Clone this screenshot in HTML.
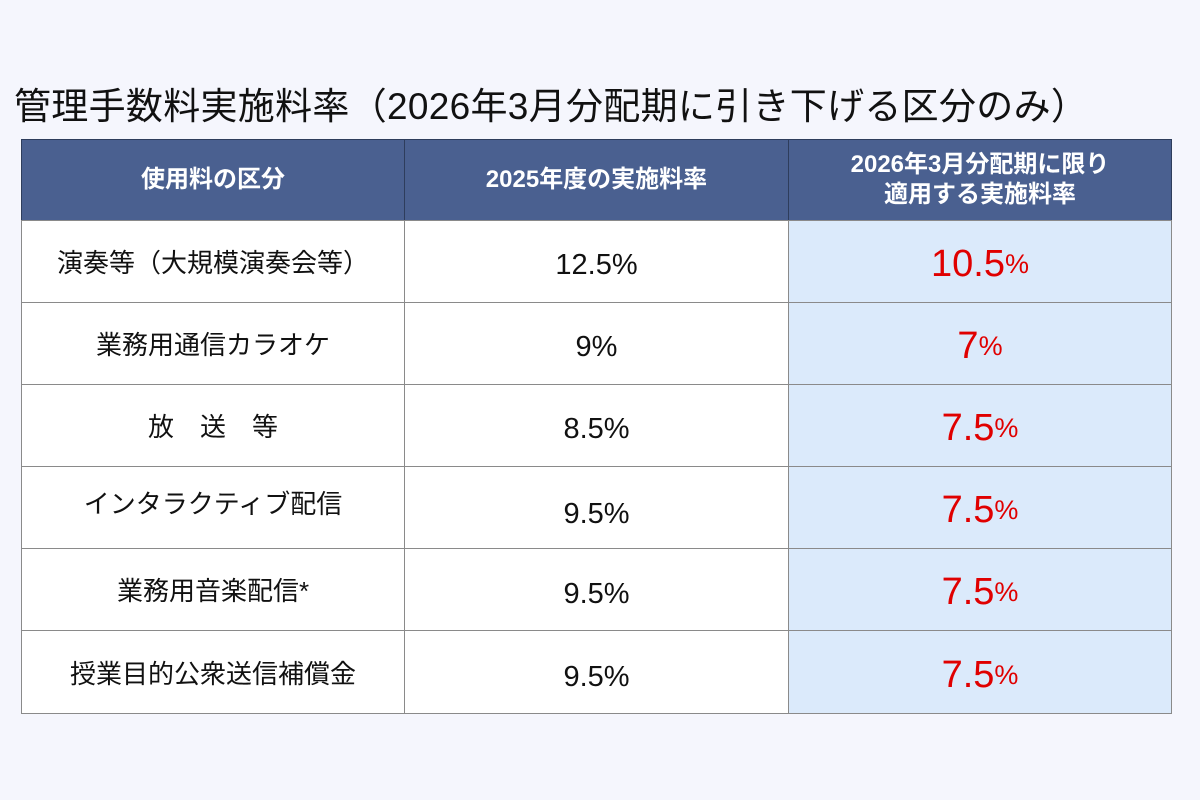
<!DOCTYPE html>
<html><head><meta charset="utf-8"><style>
body{margin:0;width:1200px;height:800px;background:#f5f6fd;font-family:"Liberation Sans","Noto Sans CJK JP",sans-serif;position:relative;overflow:hidden}
.t{position:absolute;left:14px;top:76px;font-size:37px;color:#111;white-space:nowrap;letter-spacing:0.3px}
.c{position:absolute;display:flex;align-items:center;justify-content:center;text-align:center;box-sizing:border-box;border:1px solid #8a8a8a;margin:-1px 0 0 -1px}
.h{background:#4a6090;color:#fff;font-size:24px;font-weight:bold;line-height:30px;border-color:#2e3d5c}
.w{background:#fff;color:#111;font-size:26px}
.n{font-size:29px;padding-top:8px}
.b{background:#dbeafb;color:#e00000;font-size:38px;padding-top:6px}
.b small{font-size:27px}
</style></head><body>
<div class="t">管理手数料実施料率（2026年3月分配期に引き下げる区分のみ）</div>
<div class="c h" style="left:22px;top:140px;width:384px;height:82px">使用料の区分</div>
<div class="c h" style="left:405px;top:140px;width:385px;height:82px">2025年度の実施料率</div>
<div class="c h" style="left:789px;top:140px;width:384px;height:82px">2026年3月分配期に限り<br>適用する実施料率</div>

<div class="c w" style="left:22px;top:221px;width:384px;height:83px">演奏等（大規模演奏会等）</div>
<div class="c w n" style="left:405px;top:221px;width:385px;height:83px">12.5%</div>
<div class="c b" style="left:789px;top:221px;width:384px;height:83px">10.5<small>%</small></div>

<div class="c w" style="left:22px;top:303px;width:384px;height:83px">業務用通信カラオケ</div>
<div class="c w n" style="left:405px;top:303px;width:385px;height:83px">9%</div>
<div class="c b" style="left:789px;top:303px;width:384px;height:83px">7<small>%</small></div>

<div class="c w" style="left:22px;top:385px;width:384px;height:83px">放　送　等</div>
<div class="c w n" style="left:405px;top:385px;width:385px;height:83px">8.5%</div>
<div class="c b" style="left:789px;top:385px;width:384px;height:83px">7.5<small>%</small></div>

<div class="c w" style="left:22px;top:467px;width:384px;height:83px;padding-bottom:10px">インタラクティブ配信</div>
<div class="c w n" style="left:405px;top:467px;width:385px;height:83px;padding-top:14px">9.5%</div>
<div class="c b" style="left:789px;top:467px;width:384px;height:83px">7.5<small>%</small></div>

<div class="c w" style="left:22px;top:549px;width:384px;height:83px">業務用音楽配信*</div>
<div class="c w n" style="left:405px;top:549px;width:385px;height:83px;padding-top:10px">9.5%</div>
<div class="c b" style="left:789px;top:549px;width:384px;height:83px">7.5<small>%</small></div>

<div class="c w" style="left:22px;top:631px;width:384px;height:84px">授業目的公衆送信補償金</div>
<div class="c w n" style="left:405px;top:631px;width:385px;height:84px;padding-top:10px">9.5%</div>
<div class="c b" style="left:789px;top:631px;width:384px;height:84px">7.5<small>%</small></div>
</body></html>
